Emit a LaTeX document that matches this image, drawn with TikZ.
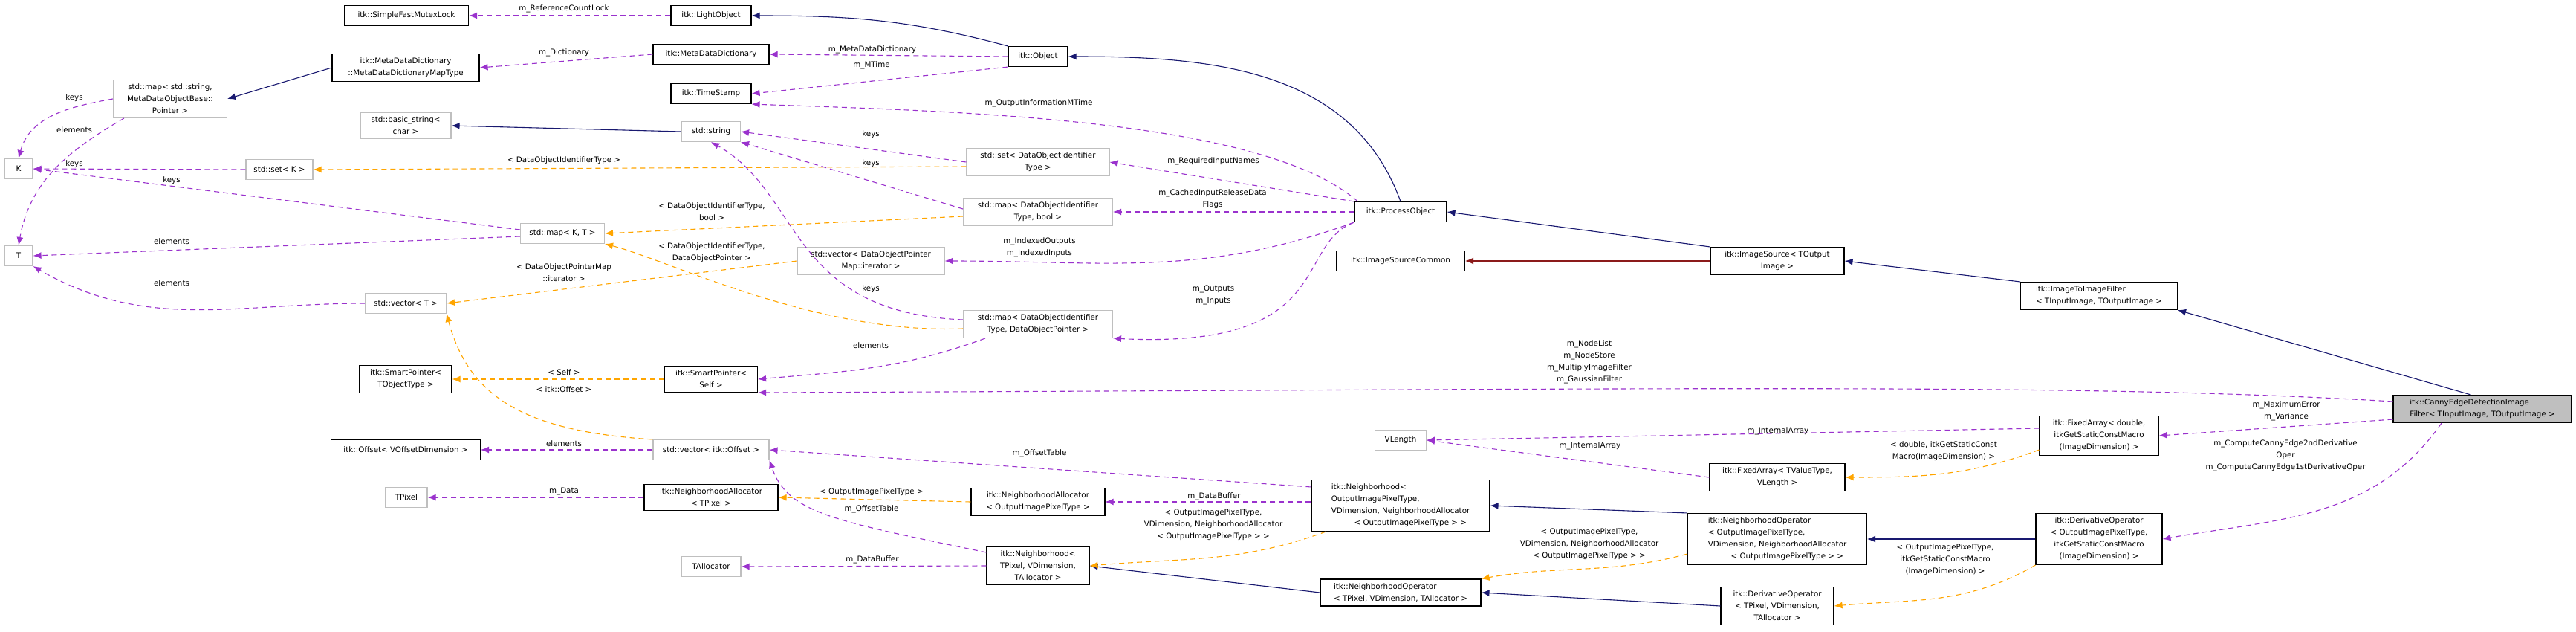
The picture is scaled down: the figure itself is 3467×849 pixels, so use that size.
\documentclass[tikz,border=0pt]{standalone}
\usepackage{fontspec}
\setmainfont{DejaVu Sans}
\usetikzlibrary{arrows.meta}
\definecolor{inhcol}{HTML}{191970}
\definecolor{usecol}{HTML}{9A32CD}
\definecolor{tplcol}{HTML}{FFA500}
\definecolor{prtcol}{HTML}{8B1A1A}
\definecolor{boxgrey}{HTML}{BFBFBF}
\tikzset{
  cls/.style={draw=black, line width=1.1pt, fill=white, align=center, inner xsep=3pt, inner ysep=5.5pt,
    font=\fontsize{10.3}{16}\selectfont, minimum height=27},
  ext/.style={cls, draw=boxgrey},
  lbl/.style={align=center, inner sep=0pt, font=\fontsize{10.3}{16}\selectfont},
  inh/.style={draw=inhcol, line width=1.1pt, -{Latex[length=11,width=9]}},
  prt/.style={draw=prtcol, line width=1.1pt, -{Latex[length=11,width=9]}},
  use/.style={draw=usecol, line width=1.1pt, dash pattern=on 7pt off 5pt, -{Latex[length=11,width=9,fill=usecol]}},
  tpl/.style={draw=tplcol, line width=1.1pt, dash pattern=on 7pt off 5pt, -{Latex[length=11,width=9,fill=tplcol]}}
}
\begin{document}
\begin{tikzpicture}[x=1pt, y=1pt]
\useasboundingbox (0,0) rectangle (3467,-849);

% -------------------------
% Left columns
% -------------------------
\node[ext, minimum width=38] (K) at (25,-227) {K};
\node[ext, minimum width=38] (T) at (25,-344) {T};
\node[ext, minimum width=153] (mapStr) at (229,-133) {std::map\textless{} std::string,\\MetaDataObjectBase::\\Pointer \textgreater{}};
\node[cls, minimum width=167] (mutexLock) at (547,-21) {itk::SimpleFastMutexLock};
\node[cls, minimum width=198] (dictMap) at (546,-91) {itk::MetaDataDictionary\\::MetaDataDictionaryMapType};
\node[ext, minimum width=122] (basicStr) at (546,-169) {std::basic\_string\textless{}\\char \textgreater{}};
\node[ext, minimum width=90] (setK) at (376,-228) {std::set\textless{} K \textgreater{}};
\node[ext, minimum width=113] (mapKT) at (757,-314) {std::map\textless{} K, T \textgreater{}};
\node[ext, minimum width=109] (vecT) at (546,-408) {std::vector\textless{} T \textgreater{}};
\node[cls, minimum width=124] (spObj) at (546,-510) {itk::SmartPointer\textless{}\\TObjectType \textgreater{}};
\node[cls, minimum width=201] (offsetDim) at (546,-605) {itk::Offset\textless{} VOffsetDimension \textgreater{}};
\node[ext, minimum width=56] (pixel) at (547,-669) {TPixel};

\node[cls, minimum width=108] (lightObj) at (957,-21) {itk::LightObject};
\node[cls, minimum width=156] (metaDict) at (957,-73) {itk::MetaDataDictionary};
\node[cls, minimum width=108] (timeStamp) at (957,-126) {itk::TimeStamp};
\node[ext, minimum width=79] (stdStr) at (957,-177) {std::string};
\node[cls, minimum width=125] (spSelf) at (957,-510) {itk::SmartPointer\textless{}\\Self \textgreater{}};
\node[ext, minimum width=156] (vecOffset) at (957,-605) {std::vector\textless{} itk::Offset \textgreater{}};
\node[cls, minimum width=180] (allocPixel) at (957,-669) {itk::NeighborhoodAllocator\\\textless{} TPixel \textgreater{}};
\node[ext, minimum width=80] (allocator) at (957,-762) {TAllocator};
\node[ext, minimum width=198] (vecIter) at (1172,-351) {std::vector\textless{} DataObjectPointer\\Map::iterator \textgreater{}};

% -------------------------
% Middle columns
% -------------------------
\node[cls, minimum width=80] (object) at (1397,-76) {itk::Object};
\node[ext, minimum width=192] (setId) at (1397,-218) {std::set\textless{} DataObjectIdentifier\\Type \textgreater{}};
\node[ext, minimum width=201] (mapBool) at (1397,-285) {std::map\textless{} DataObjectIdentifier\\Type, bool \textgreater{}};
\node[ext, minimum width=201] (mapPtr) at (1397,-436) {std::map\textless{} DataObjectIdentifier\\Type, DataObjectPointer \textgreater{}};
\node[cls, minimum width=180] (allocOut) at (1397,-675) {itk::NeighborhoodAllocator\\\textless{} OutputImagePixelType \textgreater{}};
\node[cls, minimum width=138] (nbPixel) at (1397,-761) {itk::Neighborhood\textless{}\\TPixel, VDimension,\\TAllocator \textgreater{}};

\node[cls, minimum width=124] (procObj) at (1885,-285) {itk::ProcessObject};
\node[cls, minimum width=173] (srcCommon) at (1885,-351) {itk::ImageSourceCommon};
\node[ext, minimum width=69] (vlen) at (1885,-592) {VLength};
\node[cls, minimum width=240, align=left] (nbOut) at (1885,-680) {itk::Neighborhood\textless{}\\OutputImagePixelType,\\VDimension, NeighborhoodAllocator\\\hspace*{3em}\textless{} OutputImagePixelType \textgreater{} \textgreater{}};
\node[cls, minimum width=216, align=left] (opPixel) at (1885,-797) {itk::NeighborhoodOperator\\\textless{} TPixel, VDimension, TAllocator \textgreater{}};

% -------------------------
% Right columns
% -------------------------
\node[cls, minimum width=180] (imgSrc) at (2392,-351) {itk::ImageSource\textless{} TOutput\\Image \textgreater{}};
\node[cls, minimum width=182] (arrValue) at (2392,-642) {itk::FixedArray\textless{} TValueType,\\VLength \textgreater{}};
\node[cls, minimum width=241, align=left] (opOut) at (2392,-725) {itk::NeighborhoodOperator\\\textless{} OutputImagePixelType,\\VDimension, NeighborhoodAllocator\\\hspace*{3em}\textless{} OutputImagePixelType \textgreater{} \textgreater{}};
\node[cls, minimum width=152] (derivPixel) at (2392,-815) {itk::DerivativeOperator\\\textless{} TPixel, VDimension,\\TAllocator \textgreater{}};

\node[cls, minimum width=211, align=left] (imgFilter) at (2825,-398) {itk::ImageToImageFilter\\\textless{} TInputImage, TOutputImage \textgreater{}};
\node[cls, minimum width=160] (arrDouble) at (2825,-586) {itk::FixedArray\textless{} double,\\itkGetStaticConstMacro\\(ImageDimension) \textgreater{}};
\node[cls, minimum width=170] (derivOut) at (2825,-725) {itk::DerivativeOperator\\\textless{} OutputImagePixelType,\\itkGetStaticConstMacro\\(ImageDimension) \textgreater{}};
\node[cls, minimum width=240, align=left, fill=boxgrey] (canny) at (3341,-550) {itk::CannyEdgeDetectionImage\\Filter\textless{} TInputImage, TOutputImage \textgreater{}};

% -------------------------
% Inheritance
% -------------------------
\draw[inh] (dictMap.west) -- (mapStr.east);
\draw[inh] (stdStr.west) -- (basicStr.east);
\draw[inh] (object.north west) to[out=165,in=0] (lightObj.east);
\draw[inh] (procObj.north) to[out=110,in=0] (object.east);
\draw[inh] (imgSrc.north west) -- (procObj.east);
\draw[prt] (imgSrc.west |- srcCommon) -- (srcCommon.east);
\draw[inh] (imgFilter.north west) -- (imgSrc.east);
\draw[inh] (canny.north west) ++(105,0) -- (imgFilter.south east);
\draw[inh] (opOut.north west) -- (nbOut.east);
\draw[inh] (derivOut.west |- opOut) -- (opOut.east);
\draw[inh] (derivPixel.west) -- (opPixel.east);
\draw[inh] (opPixel.west) -- (nbPixel.east);

% -------------------------
% Members
% -------------------------
\draw[use] (lightObj.west) -- (mutexLock.east) node[lbl] at (759,-12) {m\_ReferenceCountLock};
\draw[use] (metaDict.west) -- (dictMap.east) node[lbl] at (759,-71) {m\_Dictionary};
\draw[use] (mapStr.west) to[out=190,in=75] (K.north) node[lbl] at (100,-132) {keys};
\draw[use] (mapStr.south west) ++(15,0) to[out=210,in=80] (T.north) node[lbl] at (100,-175) {elements};
\draw[use] (setK.west) -- (K.east) node[lbl] at (100,-221) {keys};
\draw[use] (mapKT.west) ++(0,5) -- (K.east) node[lbl] at (231,-243) {keys};
\draw[use] (mapKT.west) ++(0,-4) -- (T.east) node[lbl] at (231,-325) {elements};
\draw[use] (vecT.west) to[out=180,in=-30] (T.south east) node[lbl] at (231,-381) {elements};
\draw[use] (vecOffset.west) -- (offsetDim.east) node[lbl] at (759,-597) {elements};
\draw[use] (allocPixel.west) -- (pixel.east) node[lbl] at (759,-661) {m\_Data};
\draw[use] (object.west) -- (metaDict.east) node[lbl] at (1174,-67) {m\_MetaDataDictionary};
\draw[use] (object.south west) -- (timeStamp.east) node[lbl] at (1173,-88) {m\_MTime};
\draw[use] (procObj.north west) ++(5,0) .. controls (1700,-160) and (1300,-150) .. (timeStamp.south east) node[lbl] at (1398,-139) {m\_OutputInformationMTime};
\draw[use] (setId.west) -- (stdStr.east) node[lbl] at (1172,-181) {keys};
\draw[use] (mapBool.west) ++(0,4) -- (stdStr.south east) node[lbl] at (1172,-220) {keys};
\draw[use] (mapPtr.west) ++(0,6) .. controls (1060,-420) and (1080,-260) .. (stdStr.south) node[lbl] at (1172,-389) {keys};
\draw[use] (procObj.north west) -- (setId.east) node[lbl] at (1633,-217) {m\_RequiredInputNames};
\draw[use] (procObj.west) -- (mapBool.east) node[lbl] at (1632,-268) {m\_CachedInputReleaseData\\Flags};
\draw[use] (procObj.south west) to[out=200,in=0] (vecIter.east) node[lbl] at (1399,-333) {m\_IndexedOutputs\\m\_IndexedInputs};
\draw[use] (procObj.south west) .. controls (1740,-330) and (1800,-470) .. (mapPtr.south east) node[lbl] at (1633,-397) {m\_Outputs\\m\_Inputs};
\draw[use] (mapPtr.south west) ++(30,0) to[out=200,in=5] (spSelf.east) node[lbl] at (1172,-465) {elements};
\draw[use] (canny.west) ++(0,10) .. controls (2800,-515) and (2300,-523) .. (spSelf.south east) node[lbl] at (2139,-487) {m\_NodeList\\m\_NodeStore\\m\_MultiplyImageFilter\\m\_GaussianFilter};
\draw[use] (arrDouble.west) ++(0,10) -- (vlen.east) node[lbl] at (2393,-580) {m\_InternalArray};
\draw[use] (arrValue.west) -- (vlen.east) node[lbl] at (2140,-600) {m\_InternalArray};
\draw[use] (canny.south west) ++(0,5) -- (arrDouble.east) node[lbl] at (3077,-553) {m\_MaximumError\\m\_Variance};
\draw[use] (canny.south) ++(-55,0) to[out=235,in=10] (derivOut.east) node[lbl] at (3076,-613) {m\_ComputeCannyEdge2ndDerivative\\Oper\\m\_ComputeCannyEdge1stDerivativeOper};
\draw[use] (nbOut.north west) ++(0,-10) -- (vecOffset.east) node[lbl] at (1399,-610) {m\_OffsetTable};
\draw[use] (nbOut.west |- allocOut) -- (allocOut.east) node[lbl] at (1634,-668) {m\_DataBuffer};
\draw[use] (nbPixel.north west) ++(0,-8) .. controls (1120,-700) and (1060,-690) .. (vecOffset.south east) node[lbl] at (1173,-685) {m\_OffsetTable};
\draw[use] (nbPixel.west) -- (allocator.east) node[lbl] at (1174,-753) {m\_DataBuffer};

% -------------------------
% Template instances
% -------------------------
\draw[tpl] (setId.west) ++(0,-6) -- (setK.east) node[lbl] at (759,-216) {\textless{} DataObjectIdentifierType \textgreater{}};
\draw[tpl] (mapBool.west) ++(0,-6) -- (mapKT.east) node[lbl] at (958,-285) {\textless{} DataObjectIdentifierType,\\bool \textgreater{}};
\draw[tpl] (mapPtr.west) ++(0,-6) .. controls (1100,-450) and (900,-350) .. (mapKT.south east) node[lbl] at (958,-340) {\textless{} DataObjectIdentifierType,\\DataObjectPointer \textgreater{}};
\draw[tpl] (vecIter.west) -- (vecT.east) node[lbl] at (759,-367) {\textless{} DataObjectPointerMap\\::iterator \textgreater{}};
\draw[tpl] (vecOffset.north west) .. controls (700,-580) and (630,-530) .. (vecT.south east) node[lbl] at (759,-524) {\textless{} itk::Offset \textgreater{}};
\draw[tpl] (spSelf.west) -- (spObj.east) node[lbl] at (759,-501) {\textless{} Self \textgreater{}};
\draw[tpl] (allocOut.west) -- (allocPixel.east) node[lbl] at (1173,-662) {\textless{} OutputImagePixelType \textgreater{}};
\draw[tpl] (nbOut.south west) ++(20,0) to[out=200,in=5] (nbPixel.east) node[lbl] at (1633,-706) {\textless{} OutputImagePixelType,\\VDimension, NeighborhoodAllocator\\\textless{} OutputImagePixelType \textgreater{} \textgreater{}};
\draw[tpl] (opOut.south west) ++(0,15) to[out=195,in=10] (opPixel.north east) node[lbl] at (2139,-732) {\textless{} OutputImagePixelType,\\VDimension, NeighborhoodAllocator\\\textless{} OutputImagePixelType \textgreater{} \textgreater{}};
\draw[tpl] (arrDouble.south west) ++(0,8) to[out=200,in=0] (arrValue.east) node[lbl] at (2616,-607) {\textless{} double, itkGetStaticConst\\Macro(ImageDimension) \textgreater{}};
\draw[tpl] (derivOut.south west) to[out=210,in=5] (derivPixel.east) node[lbl] at (2618,-753) {\textless{} OutputImagePixelType,\\itkGetStaticConstMacro\\(ImageDimension) \textgreater{}};

\end{tikzpicture}
\end{document}
